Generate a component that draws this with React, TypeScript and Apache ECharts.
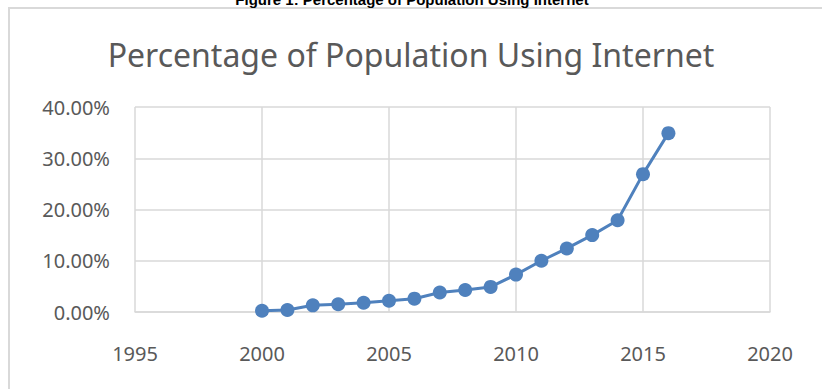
import React, { useEffect, useRef } from "react";
import * as echarts from "echarts";

const years = [2000, 2001, 2002, 2003, 2004, 2005, 2006, 2007, 2008, 2009, 2010, 2011, 2012, 2013, 2014, 2015, 2016];
const percentUsers = [0.25, 0.4, 1.3, 1.5, 1.8, 2.2, 2.6, 3.8, 4.3, 4.9, 7.3, 10.0, 12.4, 15.0, 17.9, 26.9, 34.9];
const chartTitle = "Percentage of Population Using Internet";
const figureCaption = "Figure 1: Percentage of Population Using Internet";

export default function App() {
  const ref = useRef<HTMLDivElement>(null);
  useEffect(() => {
    document.body.style.margin = "0";
    const chart = echarts.init(ref.current!, null, { renderer: "svg" });
    chart.setOption({
      animation: false,
      backgroundColor: "#ffffff",
      title: {
        text: chartTitle,
        left: "center",
        top: 33,
        textStyle: { fontFamily: "Noto Sans", fontSize: 32, fontWeight: "normal", color: "#595959" },
      },
      graphic: [
        {
          type: "rect",
          shape: { x: 9, y: 8, width: 900, height: 500 },
          style: { fill: "none", stroke: "#d9d9d9", lineWidth: 2 },
          z: 0,
        },
        {
          type: "text",
          x: 412,
          y: 7,
          style: {
            text: figureCaption,
            fontFamily: "Liberation Sans",
            fontWeight: "bold",
            fontSize: 15,
            fill: "#000000",
            align: "center",
            verticalAlign: "bottom",
          },
        },
      ],
      grid: { left: 135, right: 52, top: 107, bottom: 77 },
      xAxis: {
        type: "value",
        min: 1995,
        max: 2020,
        interval: 5,
        axisLine: { show: true, lineStyle: { color: "#d9d9d9", width: 1.5 } },
        axisTick: { show: false },
        splitLine: { show: true, lineStyle: { color: "#d9d9d9", width: 1.5 } },
        axisLabel: {
          fontFamily: "Noto Sans",
          fontSize: 20,
          color: "#595959",
          margin: 31,
          formatter: (v: number) => String(v),
        },
      },
      yAxis: {
        type: "value",
        min: 0,
        max: 40,
        interval: 10,
        axisLine: { show: false },
        axisTick: { show: false },
        splitLine: { show: true, lineStyle: { color: "#d9d9d9", width: 1.5 } },
        axisLabel: {
          fontFamily: "Noto Sans",
          fontSize: 20,
          color: "#595959",
          margin: 25,
          formatter: (v: number) => v.toFixed(2) + "%",
        },
      },
      series: [
        {
          type: "line",
          data: years.map((y, i) => [y, percentUsers[i]]),
          symbol: "circle",
          symbolSize: 14,
          itemStyle: { color: "#4f81bd" },
          lineStyle: { color: "#4f81bd", width: 3 },
        },
      ],
    });
    return () => chart.dispose();
  }, []);
  return <div ref={ref} style={{ width: 822, height: 389 }} />;
}
